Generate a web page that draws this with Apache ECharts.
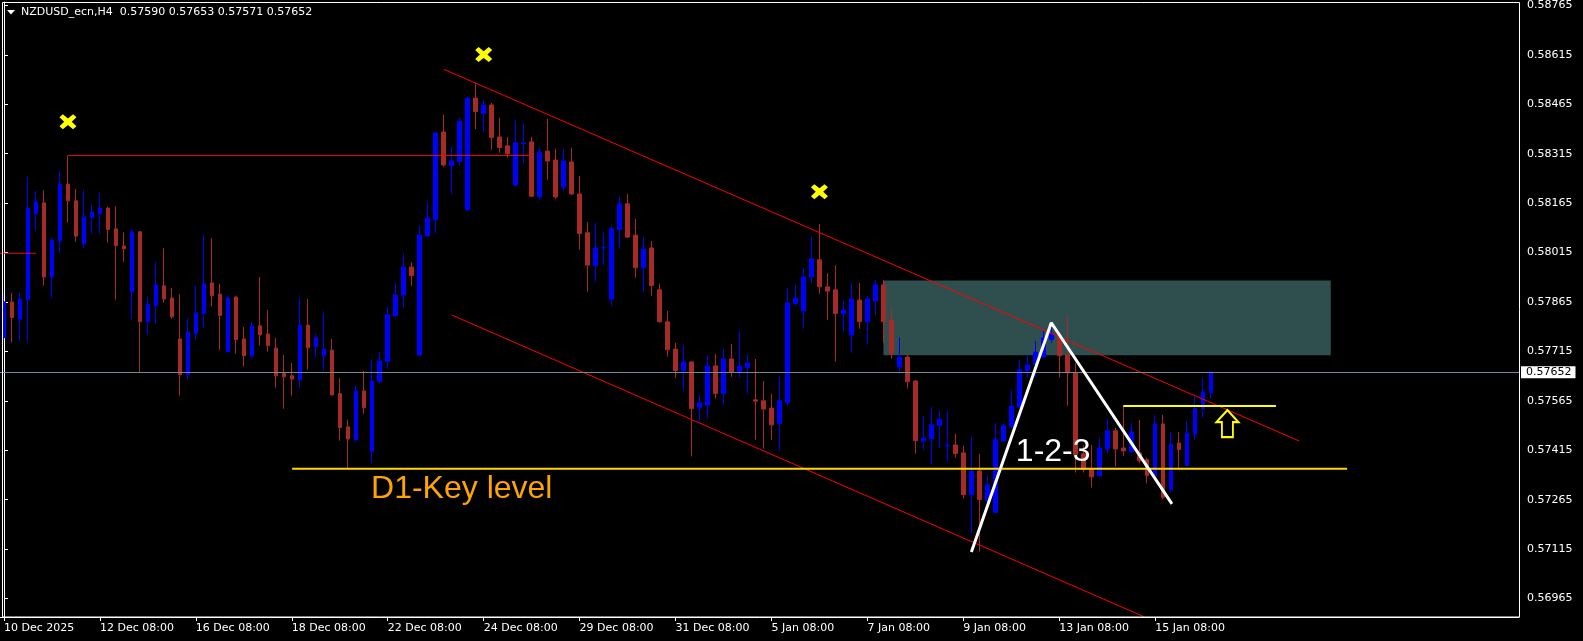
<!DOCTYPE html>
<html>
<head>
<meta charset="utf-8">
<script src="https://cdn.jsdelivr.net/npm/echarts@6/dist/echarts.min.js"></script>
<style>
html,body{margin:0;padding:0;background:#000;}
#chart{width:1583px;height:641px;}
</style>
</head>
<body>
<div id="chart"></div>
<script>
// ---------- text ----------
const chartTitle = 'NZDUSD_ecn,H4  0.57590 0.57653 0.57571 0.57652';
const timeLabels = ['10 Dec 2025','12 Dec 08:00','16 Dec 08:00','18 Dec 08:00','22 Dec 08:00','24 Dec 08:00',
  '29 Dec 08:00','31 Dec 08:00','5 Jan 08:00','7 Jan 08:00','9 Jan 08:00','13 Jan 08:00','15 Jan 08:00'];
const labelEvery = 12;      // one time label every 12 H4 bars
const slotCount = 190;      // bar slots visible in the window
const priceTicks = [0.58765,0.58615,0.58465,0.58315,0.58165,0.58015,0.57865,0.57715,0.57565,0.57415,0.57265,0.57115,0.56965];
const priceMin = 0.569088;
const priceMax = 0.587756;
const lastPrice = 0.57652;

// ---------- H4 candles ----------
const opens = [0.57757,0.57865,0.57813,0.57872,0.58133,0.58166,0.57941,0.58051,0.58223,0.58172,
0.58042,0.58121,0.58133,0.58150,0.58087,0.58035,0.57896,0.58078,0.57805,0.57854,
0.57914,0.57877,0.57753,0.57644,0.57769,0.57830,0.57923,0.57889,0.57714,0.57880,
0.57753,0.57702,0.57793,0.57768,0.57725,0.57648,0.57641,0.57629,0.57795,0.57729,
0.57702,0.57719,0.57587,0.57486,0.57447,0.57595,0.57411,0.57623,0.57684,0.57824,
0.57886,0.57971,0.57704,0.58066,0.58115,0.58381,0.58279,0.58291,0.58145,0.58484,
0.58437,0.58463,0.58366,0.58339,0.58220,0.58346,0.58351,0.58184,0.58323,0.58296,
0.58214,0.58290,0.58193,0.58075,0.57975,0.58029,0.57874,0.58085,0.58163,0.58068,
0.57969,0.58029,0.57902,0.57805,0.57722,0.57657,0.57683,0.57544,0.57552,0.57671,
0.57587,0.57692,0.57654,0.57666,0.57568,0.57565,0.57543,0.57496,0.57559,0.57860,
0.57838,0.57941,0.57993,0.57911,0.57902,0.57830,0.57765,0.57871,0.57805,0.57868,
0.57917,0.57810,0.57668,0.57698,0.57625,0.57444,0.57450,0.57490,0.57428,0.57431,
0.57407,0.57280,0.57352,0.57261,0.57226,0.57443,0.57486,0.57546,0.57656,0.57674,
0.57698,0.57751,0.57765,0.57704,0.57650,0.57404,0.57360,0.57338,0.57419,0.57474,
0.57422,0.57410,0.57407,0.57386,0.57338,0.57495,0.57296,0.57437,0.57368,0.57464,
0.57540,0.57590];
const highs = [0.57889,0.57892,0.57894,0.58244,0.58202,0.58204,0.58061,0.58263,0.58310,0.58208,
0.58205,0.58159,0.58196,0.58155,0.58156,0.58076,0.58086,0.58080,0.57880,0.57986,
0.58029,0.57908,0.57889,0.57816,0.57915,0.58068,0.58059,0.57920,0.57886,0.57883,
0.57789,0.57804,0.57941,0.57841,0.57756,0.57704,0.57680,0.57877,0.57874,0.57768,
0.57832,0.57753,0.57634,0.57508,0.57611,0.57656,0.57692,0.57714,0.57850,0.57923,
0.58012,0.57986,0.58096,0.58169,0.58381,0.58433,0.58336,0.58424,0.58487,0.58530,
0.58478,0.58469,0.58424,0.58366,0.58419,0.58406,0.58366,0.58333,0.58421,0.58330,
0.58330,0.58333,0.58248,0.58108,0.58105,0.58075,0.58096,0.58184,0.58193,0.58117,
0.58062,0.58050,0.57921,0.57838,0.57741,0.57735,0.57686,0.57583,0.57704,0.57707,
0.57723,0.57738,0.57778,0.57707,0.57692,0.57625,0.57586,0.57637,0.57908,0.57917,
0.57968,0.58062,0.58102,0.57953,0.57977,0.57868,0.57923,0.57923,0.57883,0.57932,
0.57932,0.57848,0.57757,0.57706,0.57628,0.57520,0.57546,0.57537,0.57535,0.57465,
0.57429,0.57455,0.57404,0.57340,0.57498,0.57498,0.57598,0.57689,0.57704,0.57747,
0.57780,0.57795,0.57774,0.57823,0.57680,0.57430,0.57431,0.57454,0.57510,0.57483,
0.57549,0.57498,0.57507,0.57392,0.57522,0.57522,0.57471,0.57471,0.57504,0.57578,
0.57634,0.57653];
const lows = [0.57750,0.57742,0.57747,0.57742,0.58081,0.57915,0.57878,0.58014,0.58106,0.58048,
0.58030,0.58072,0.58072,0.58045,0.57872,0.57987,0.57814,0.57652,0.57765,0.57799,
0.57863,0.57814,0.57581,0.57630,0.57751,0.57787,0.57851,0.57720,0.57711,0.57708,
0.57669,0.57693,0.57733,0.57714,0.57605,0.57541,0.57581,0.57605,0.57660,0.57696,
0.57657,0.57581,0.57444,0.57360,0.57441,0.57526,0.57376,0.57619,0.57662,0.57817,
0.57848,0.57914,0.57701,0.58063,0.58074,0.58276,0.58194,0.58279,0.58142,0.58390,
0.58382,0.58327,0.58318,0.58303,0.58217,0.58287,0.58184,0.58176,0.58236,0.58178,
0.58202,0.58190,0.58024,0.57896,0.57927,0.57977,0.57854,0.58026,0.58059,0.57939,
0.57896,0.57884,0.57802,0.57699,0.57635,0.57596,0.57396,0.57502,0.57511,0.57572,
0.57553,0.57638,0.57635,0.57587,0.57447,0.57420,0.57447,0.57414,0.57552,0.57854,
0.57787,0.57923,0.57890,0.57811,0.57684,0.57777,0.57711,0.57784,0.57736,0.57826,
0.57742,0.57693,0.57654,0.57602,0.57405,0.57417,0.57371,0.57423,0.57380,0.57393,
0.57268,0.57162,0.57107,0.57258,0.57224,0.57441,0.57484,0.57544,0.57636,0.57637,
0.57696,0.57741,0.57636,0.57550,0.57347,0.57347,0.57302,0.57333,0.57407,0.57365,
0.57398,0.57408,0.57375,0.57315,0.57335,0.57266,0.57287,0.57362,0.57366,0.57448,
0.57514,0.57571];
const closes = [0.57865,0.57818,0.57874,0.58150,0.58169,0.57941,0.58053,0.58223,0.58172,0.58065,
0.58123,0.58138,0.58150,0.58085,0.58036,0.58027,0.58078,0.57805,0.57859,0.57917,
0.57874,0.57820,0.57644,0.57774,0.57832,0.57920,0.57884,0.57824,0.57877,0.57751,
0.57702,0.57792,0.57765,0.57733,0.57641,0.57638,0.57631,0.57795,0.57726,0.57757,
0.57722,0.57583,0.57484,0.57449,0.57595,0.57544,0.57625,0.57686,0.57826,0.57886,
0.57971,0.57945,0.58068,0.58120,0.58378,0.58281,0.58293,0.58414,0.58484,0.58443,
0.58463,0.58364,0.58334,0.58315,0.58348,0.58348,0.58186,0.58320,0.58293,0.58184,
0.58293,0.58193,0.58073,0.57977,0.58029,0.58030,0.58087,0.58163,0.58062,0.57969,
0.58026,0.57915,0.57805,0.57720,0.57657,0.57683,0.57541,0.57559,0.57671,0.57587,
0.57692,0.57651,0.57671,0.57680,0.57564,0.57540,0.57492,0.57565,0.57862,0.57877,
0.57941,0.57996,0.57911,0.57898,0.57830,0.57841,0.57874,0.57805,0.57874,0.57917,
0.57805,0.57708,0.57698,0.57623,0.57444,0.57452,0.57492,0.57508,0.57430,0.57405,
0.57280,0.57352,0.57265,0.57310,0.57447,0.57489,0.57549,0.57659,0.57674,0.57713,
0.57756,0.57768,0.57702,0.57650,0.57401,0.57357,0.57334,0.57422,0.57474,0.57419,
0.57413,0.57471,0.57383,0.57338,0.57495,0.57272,0.57434,0.57417,0.57467,0.57543,
0.57592,0.57652];

// ---------- drawn objects, as [bar index, price] ----------
const upperChannel = [[55.04,0.58571],[162,0.57443]];
const lowerChannel = [[56.04,0.57825],[142.56,0.56910]];
const highLine = [[8,0.58310],[65.75,0.58310]];
const leftStub = [[-0.5,0.58013],[4,0.58013]];
const keyLevel = [[36.04,0.57359],[168,0.57359]];
const breakLine = [[140,0.57549],[159.1,0.57549]];
const pattern123 = [[121,0.57106],[131,0.57802],[146.09,0.57252]];
const zoneCorners = [[110,0.57930],[165.95,0.57703]];
const fractalMarks = [[8,0.58412],[60,0.58616],[102,0.58200]];
const arrowMark = [[153.03,0.57496]];
const keyLabelText = 'D1-Key level';
const keyLabelAt = [45.85,0.57296];
const patternLabelText = '1-2-3';
const patternLabelAt = [126.5,0.57408];

// ---------- build ----------
const categories = Array.from({length: slotCount}, (_, i) => String(i));
const candles = opens.map((o, i) => [o, closes[i], lows[i], highs[i]]);
const smallFont = "'DejaVu Sans', Tahoma, sans-serif";
const bigFont = "'Liberation Sans', Arial, sans-serif";
const isTimeTick = (i) => i % labelEvery === 0 && (i / labelEvery) < timeLabels.length;

function overlayLine(data, color, width, z) {
  return {
    type: 'line', xAxisIndex: 1, yAxisIndex: 0, data: data, symbol: 'none', silent: true,
    z: z || 3, clip: true, animation: false,
    lineStyle: {color: color, width: width}
  };
}
function textMark(at, text, color) {
  return {
    type: 'scatter', xAxisIndex: 1, yAxisIndex: 0, data: [at], symbolSize: 1, silent: true, z: 6,
    itemStyle: {color: 'rgba(0,0,0,0)', opacity: 1},
    label: {show: true, position: 'right', distance: 0, formatter: text, color: color, opacity: 1,
      fontFamily: bigFont, fontSize: 32, align: 'left', verticalAlign: 'middle'}
  };
}

const chart = echarts.init(document.getElementById('chart'), null, {renderer: 'canvas'});
chart.setOption({
  backgroundColor: '#000000',
  animation: false,
  grid: {left: -1, right: 64, top: 2, bottom: 24, containLabel: false},
  xAxis: [
    {
      type: 'category', data: categories, boundaryGap: true,
      axisLine: {show: true, lineStyle: {color: '#ffffff', width: 1}},
      axisTick: {show: true, alignWithLabel: true, length: 4,
        interval: isTimeTick, lineStyle: {color: '#ffffff'}},
      axisLabel: {show: true, interval: isTimeTick,
        formatter: (v, i) => timeLabels[i / labelEvery] || '',
        color: '#ffffff', fontFamily: smallFont, fontSize: 11, align: 'left', margin: 6},
      splitLine: {show: false}
    },
    {type: 'value', min: -0.5, max: slotCount - 0.5, show: false}
  ],
  yAxis: {
    type: 'value', position: 'right', min: priceMin, max: priceMax, scale: true,
    axisLine: {show: true, lineStyle: {color: '#ffffff', width: 1}},
    axisTick: {show: true, length: 4, customValues: priceTicks, lineStyle: {color: '#ffffff'}},
    axisLabel: {show: true, customValues: priceTicks, formatter: (v) => v.toFixed(5),
      color: '#ffffff', fontFamily: smallFont, fontSize: 11, margin: 8},
    splitLine: {show: false}
  },
  graphic: [
    {type: 'rect', shape: {x: 2.5, y: 2.5, width: 1517, height: 614.5},
      style: {fill: null, stroke: '#ffffff', lineWidth: 1}, z: 50, silent: true},
    {type: 'polygon', shape: {points: [[7, 10], [15, 10], [11, 14.5]]},
      style: {fill: '#ffffff'}, z: 50, silent: true},
    {type: 'text', x: 21, y: 12, silent: true, z: 50,
      style: {text: chartTitle, fill: '#ffffff', font: "11px 'DejaVu Sans', Tahoma, sans-serif",
        verticalAlign: 'middle', align: 'left'}}
  ],
  series: [
    {
      type: 'line', xAxisIndex: 1, yAxisIndex: 0, data: [], silent: true, z: 1,
      markArea: {silent: true, z: 1, itemStyle: {color: '#2F4F4F', opacity: 1, borderWidth: 0},
        data: [[{coord: zoneCorners[0]}, {coord: zoneCorners[1]}]]}
    },
    {
      type: 'candlestick', xAxisIndex: 0, yAxisIndex: 0, data: candles, barWidth: 4, silent: true, z: 2,
      itemStyle: {color: '#0000FF', color0: '#A52A2A', borderColor: '#0000FF', borderColor0: '#A52A2A', borderWidth: 1}
    },
    {
      type: 'line', xAxisIndex: 1, yAxisIndex: 0, data: [], silent: true, z: 4,
      markLine: {
        silent: true, symbol: ['none', 'none'], z: 4, animation: false,
        lineStyle: {color: '#778899', width: 1, type: 'solid'},
        label: {show: true, position: 'end', distance: 2, formatter: lastPrice.toFixed(5),
          color: '#000000', backgroundColor: '#ffffff', padding: [1, 4, 0, 5],
          fontFamily: smallFont, fontSize: 11},
        data: [[{coord: [-0.5, lastPrice]}, {coord: [slotCount - 0.5, lastPrice]}]]
      }
    },
    overlayLine(upperChannel, '#FF0000', 1),
    overlayLine(lowerChannel, '#FF0000', 1),
    overlayLine(highLine, '#E01010', 1),
    overlayLine(leftStub, '#E01010', 1),
    overlayLine(keyLevel, '#FFD700', 2),
    overlayLine(breakLine, '#FFFF00', 2),
    overlayLine(pattern123, '#FFFFFF', 3, 5),
    {
      type: 'scatter', xAxisIndex: 1, yAxisIndex: 0, data: fractalMarks, silent: true, z: 6,
      symbol: 'path://M2,0 L5,2.8 L8,0 L10,2 L7.2,5 L10,8 L8,10 L5,7.2 L2,10 L0,8 L2.8,5 L0,2 Z',
      symbolSize: [17, 15], itemStyle: {color: '#FFFF00', opacity: 1}
    },
    {
      type: 'scatter', xAxisIndex: 1, yAxisIndex: 0, data: arrowMark, silent: true, z: 6,
      symbol: 'path://M11,0 L22,12 L16.5,12 L16.5,27 L5.5,27 L5.5,12 L0,12 Z',
      symbolSize: [22, 27], itemStyle: {color: 'rgba(0,0,0,0)', borderColor: '#FFFF00', borderWidth: 2, opacity: 1}
    },
    textMark(keyLabelAt, keyLabelText, '#FFA500'),
    textMark(patternLabelAt, patternLabelText, '#FFFFFF')
  ]
});
</script>
</body>
</html>
